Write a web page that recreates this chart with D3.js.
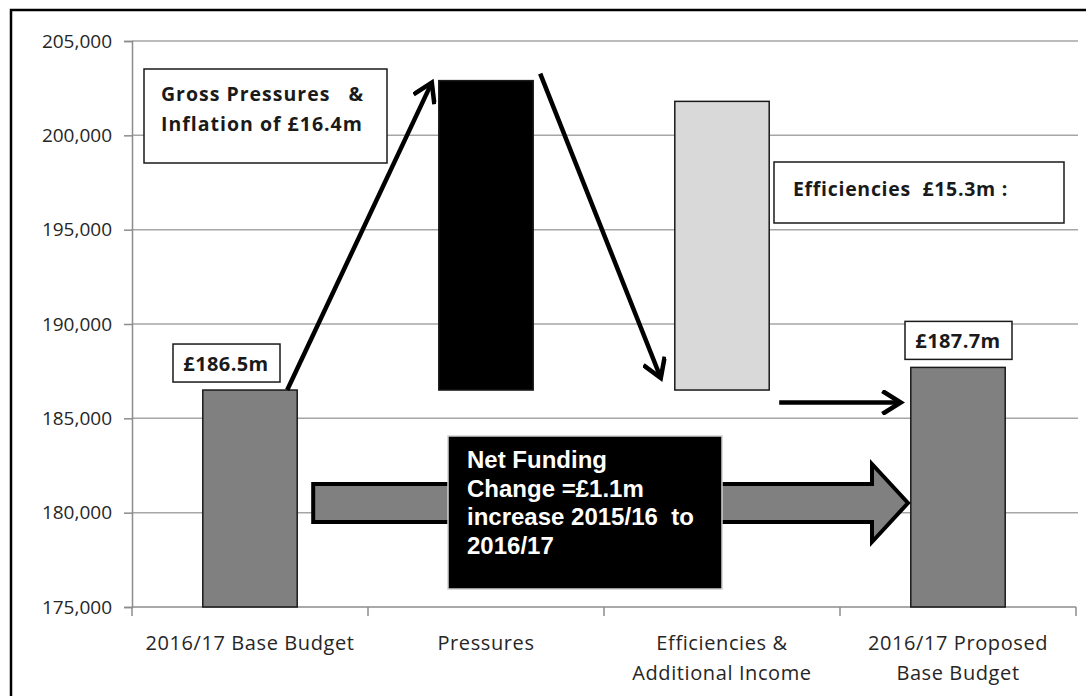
<!DOCTYPE html>
<html>
<head>
<meta charset="utf-8">
<script src="https://cdn.jsdelivr.net/npm/d3@7"></script>
<style>
  html, body { margin: 0; padding: 0; background: #fff; }
  svg { display: block; }
</style>
</head>
<body>
<svg id="chart" width="1086" height="696"></svg>
<script>
// Budget movement 2016/17: base budget, pressures, efficiencies, proposed budget
const categories = [
  ["2016/17 Base Budget"],
  ["Pressures"],
  ["Efficiencies &", "Additional Income"],
  ["2016/17 Proposed", "Base Budget"]
];
const barLow  = [175000, 186500, 186500, 175000];
const barHigh = [186500, 202900, 201800, 187700];
const barFill = ["#808080", "#000000", "#d9d9d9", "#808080"];
const yTicks  = [175000, 180000, 185000, 190000, 195000, 200000, 205000];
const valueLabels = ["£186.5m", null, null, "£187.7m"];

const FONT = "'Open Sans', Lato, sans-serif";
const svg = d3.select("#chart");
const margin = { left: 132, right: 1076, top: 41, bottom: 607 };

const x = d3.scaleBand()
  .domain(d3.range(categories.length))
  .range([margin.left, margin.right])
  .paddingInner(0.6)
  .paddingOuter(0.3);

const y = d3.scaleLinear()
  .domain([175000, 205000])
  .range([margin.bottom, margin.top]);

// outer frame
svg.append("rect")
  .attr("x", 11).attr("y", 10)
  .attr("width", 1090).attr("height", 700)
  .attr("fill", "none").attr("stroke", "#000").attr("stroke-width", 2.5);

// horizontal gridlines
svg.append("g")
  .selectAll("line")
  .data(yTicks.slice(1))
  .join("line")
  .attr("x1", margin.left).attr("x2", 1078)
  .attr("y1", d => y(d)).attr("y2", d => y(d))
  .attr("stroke", "#a6a6a6").attr("stroke-width", 1.5);

// y axis
const yAxis = svg.append("g")
  .attr("transform", `translate(${margin.left},0)`)
  .call(d3.axisLeft(y).tickValues(yTicks).tickSize(8).tickPadding(12)
    .tickFormat(d3.format(",")));
yAxis.select(".domain").attr("stroke", "#8c8c8c").attr("stroke-width", 1.5);
yAxis.selectAll(".tick line").attr("stroke", "#8c8c8c").attr("stroke-width", 1.5);
yAxis.selectAll(".tick text")
  .attr("font-family", FONT)
  .attr("font-size", 19).attr("fill", "#262626");

// x axis (ticks at band boundaries)
const boundaries = d3.range(categories.length + 1)
  .map(i => margin.left + i * (margin.right - margin.left) / categories.length);
const xg = svg.append("g");
xg.append("line")
  .attr("x1", margin.left).attr("x2", margin.right)
  .attr("y1", margin.bottom).attr("y2", margin.bottom)
  .attr("stroke", "#8c8c8c").attr("stroke-width", 1.5);
xg.selectAll("line.tk")
  .data(boundaries)
  .join("line").attr("class", "tk")
  .attr("x1", d => d).attr("x2", d => d)
  .attr("y1", margin.bottom).attr("y2", margin.bottom + 9)
  .attr("stroke", "#8c8c8c").attr("stroke-width", 1.5);

const catLabel = xg.selectAll("text.cat")
  .data(categories)
  .join("text").attr("class", "cat")
  .attr("x", (d, i) => x(i) + x.bandwidth() / 2)
  .attr("y", 650)
  .attr("text-anchor", "middle")
  .attr("font-family", FONT)
  .attr("font-size", 20)
  .attr("letter-spacing", 0.6)
  .attr("fill", "#262626");
catLabel.selectAll("tspan")
  .data(d => d)
  .join("tspan")
  .attr("x", function () { return d3.select(this.parentNode).attr("x"); })
  .attr("dy", (d, i) => i === 0 ? 0 : 30)
  .text(d => d);

// bars
svg.append("g")
  .selectAll("rect")
  .data(categories)
  .join("rect")
  .attr("x", (d, i) => x(i))
  .attr("width", x.bandwidth())
  .attr("y", (d, i) => y(barHigh[i]))
  .attr("height", (d, i) => y(barLow[i]) - y(barHigh[i]))
  .attr("fill", (d, i) => barFill[i])
  .attr("stroke", "#1a1a1a").attr("stroke-width", 1.5);

// value labels above first and last bars
valueLabels.forEach((lab, i) => {
  if (!lab) return;
  const cx = x(i) + x.bandwidth() / 2 - (i === 0 ? 24 : 0);
  const by = y(barHigh[i]) - 8;
  const g = svg.append("g");
  g.append("rect")
    .attr("x", cx - 53).attr("y", by - 38)
    .attr("width", 107).attr("height", 38)
    .attr("fill", "#fff").attr("stroke", "#1a1a1a").attr("stroke-width", 1.5);
  g.append("text")
    .attr("x", cx).attr("y", by - 11)
    .attr("text-anchor", "middle")
    .attr("font-family", FONT)
    .attr("font-weight", "bold").attr("font-size", 20)
    .attr("letter-spacing", 0.4)
    .attr("fill", "#1a1a1a")
    .text(lab);
});

// text boxes
function textBox(bx, by, bw, bh, lines, opts) {
  const g = svg.append("g");
  g.append("rect")
    .attr("x", bx).attr("y", by).attr("width", bw).attr("height", bh)
    .attr("fill", opts.fill).attr("stroke", opts.stroke).attr("stroke-width", 1.5);
  const t = g.append("text")
    .attr("font-family", opts.font)
    .attr("font-weight", "bold")
    .attr("font-size", opts.size)
    .attr("letter-spacing", opts.ls || 0)
    .attr("fill", opts.color)
    .style("white-space", "pre");
  lines.forEach((ln, i) => {
    t.append("tspan").attr("x", bx + opts.padX).attr("y", by + opts.padY + i * opts.lh).text(ln);
  });
}

textBox(144, 69, 243, 94, ["Gross Pressures   &", "Inflation of £16.4m"],
  { fill: "#fff", stroke: "#1a1a1a", color: "#1a1a1a", font: FONT, size: 19.5, ls: 1, padX: 17, padY: 32, lh: 30 });

textBox(774, 162, 290, 61, ["Efficiencies  £15.3m :"],
  { fill: "#fff", stroke: "#1a1a1a", color: "#1a1a1a", font: FONT, size: 19.5, ls: 0.7, padX: 19, padY: 34, lh: 30 });

// arrow marker (open chevron)
const defs = svg.append("defs");
defs.append("marker")
  .attr("id", "chev")
  .attr("viewBox", "-10 -6 12 12")
  .attr("refX", 0).attr("refY", 0)
  .attr("markerWidth", 5.5).attr("markerHeight", 5.5)
  .attr("markerUnits", "strokeWidth")
  .attr("orient", "auto")
  .append("path")
  .attr("d", "M-8,-5 L0,0 L-8,5")
  .attr("fill", "none").attr("stroke", "#000").attr("stroke-width", 2.2)
  .attr("stroke-linecap", "square");

function lineArrow(x1, y1, x2, y2) {
  svg.append("line")
    .attr("x1", x1).attr("y1", y1).attr("x2", x2).attr("y2", y2)
    .attr("stroke", "#000").attr("stroke-width", 4.5)
    .attr("marker-end", "url(#chev)");
}

// base budget -> pressures
lineArrow(x(0) + x.bandwidth() - 10, y(barHigh[0]), x(1) - 7, y(barHigh[1]) + 2);
// pressures -> efficiencies
lineArrow(x(1) + x.bandwidth() + 7, y(barHigh[1]) - 7, x(2) - 14, y(barLow[2]) - 12);
// efficiencies -> proposed budget
lineArrow(x(2) + x.bandwidth() + 10, y(186000) + 3, x(3) - 10, y(186000) + 3);

// block arrow: net funding change from base to proposed
const shaftL = x(0) + x.bandwidth() + 16;
const headBase = 872, tip = 908, midY = 503;
const blockPath = [
  [shaftL, midY - 19], [headBase, midY - 19], [headBase, midY - 39],
  [tip, midY], [headBase, midY + 39], [headBase, midY + 19], [shaftL, midY + 19]
];
svg.append("path")
  .attr("d", d3.line()(blockPath) + "Z")
  .attr("fill", "#808080").attr("stroke", "#000").attr("stroke-width", 4)
  .attr("stroke-linejoin", "miter");

textBox(448, 436, 274, 153, ["Net Funding", "Change =£1.1m", "increase 2015/16  to", "2016/17"],
  { fill: "#000", stroke: "#d0d0d0", color: "#fff", font: "'Liberation Sans', Arial, sans-serif", size: 24, padX: 19, padY: 32, lh: 28.7 });
</script>
</body>
</html>
